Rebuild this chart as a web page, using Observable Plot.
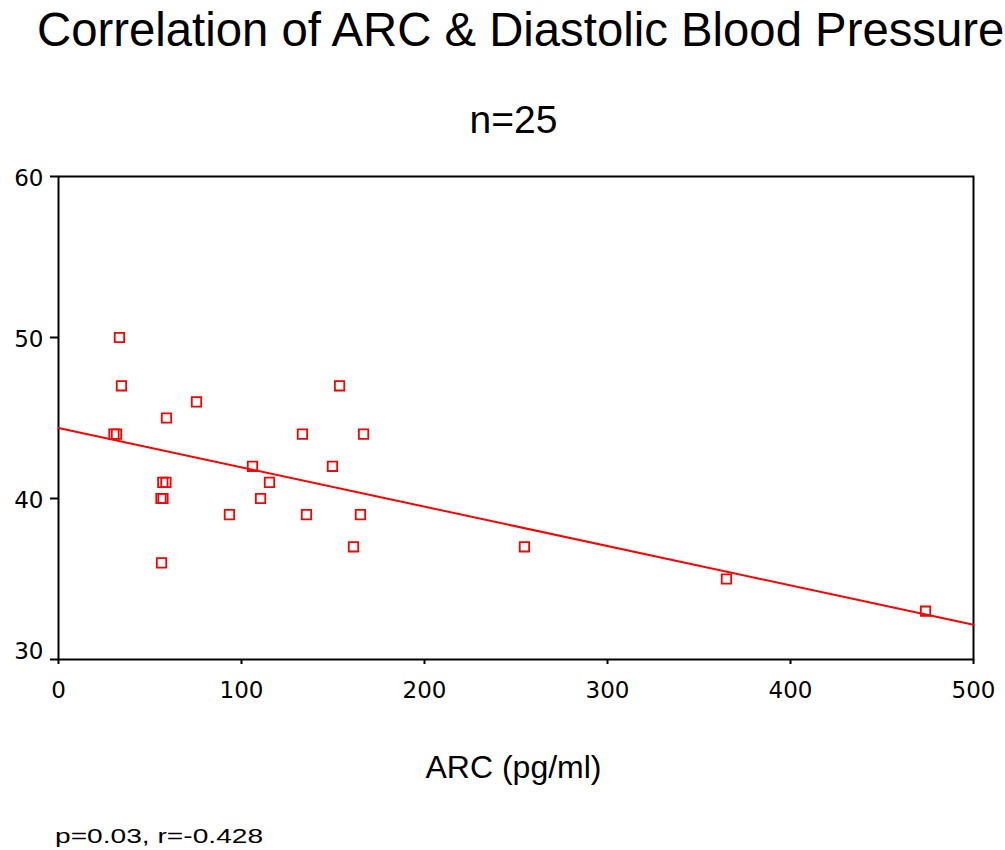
<!DOCTYPE html>
<html>
<head>
<meta charset="utf-8">
<script src="https://cdn.jsdelivr.net/npm/d3@7"></script>
<script src="https://cdn.jsdelivr.net/npm/@observablehq/plot@0.6"></script>
<style>
  html, body { margin: 0; padding: 0; background: white; }
  #wrap { position: relative; width: 1005px; height: 850px; overflow: hidden; background: white;
          font-family: "Liberation Sans", Arial, sans-serif; color: black; }
  .t { position: absolute; line-height: 1; white-space: nowrap; }
  #chart { position: absolute; left: 0; top: 150px; }
  #chart svg text { font-family: "DejaVu Sans", Verdana, sans-serif; }
</style>
</head>
<body>
<div id="wrap">
  <div id="title" class="t" style="left:37px; top:6px; font-size:47.3px;"></div>
  <div id="subtitle" class="t" style="left:0; width:1027px; text-align:center; top:100px; font-size:39px;"></div>
  <div id="chart"></div>
  <div id="xlabel" class="t" style="left:0; width:1027px; text-align:center; top:751px; font-size:32px;"></div>
  <div id="note" class="t" style="left:55px; top:825px; font-size:21px; transform:scaleX(1.34); transform-origin:0 0;"></div>
</div>
<script>
// ---- data ----
const arc = [33.3, 34.4, 30.3, 31.7, 59, 75.4, 57, 58.7, 56, 57.1, 56.3, 93.4, 106, 110.4, 115.3,
             133.3, 135.5, 149.7, 153.6, 161.2, 165, 166.7, 254.6, 365, 473.8];
const dbp = [50, 47, 44, 44, 45, 46, 41, 41, 40, 40, 36, 39, 42, 40, 41,
             44, 39, 42, 47, 37, 39, 44, 37, 35, 33];
const xTicks = [0, 100, 200, 300, 400, 500];
const yTicks = [30, 40, 50, 60];
const titleText = "Correlation of ARC & Diastolic Blood Pressure";
const subtitleText = "n=25";
const xLabelText = "ARC (pg/ml)";
const noteText = "p=0.03, r=-0.428";

document.getElementById("title").textContent = titleText;
document.getElementById("subtitle").textContent = subtitleText;
document.getElementById("xlabel").textContent = xLabelText;
document.getElementById("note").textContent = noteText;

const points = arc.map((x, i) => ({x, y: dbp[i]}));
const xDomain = [xTicks[0], xTicks[xTicks.length - 1]];
const yDomain = [yTicks[0], yTicks[yTicks.length - 1]];

// least-squares fit, drawn across the whole x domain
const mx = d3.mean(arc), my = d3.mean(dbp);
const slope = d3.sum(arc, (x, i) => (x - mx) * (dbp[i] - my)) / d3.sum(arc, x => (x - mx) ** 2);
const intercept = my - slope * mx;
const fit = xDomain.map(x => ({x, y: intercept + slope * x}));

const chart = Plot.plot({
  width: 1005,
  height: 570,
  marginTop: 26,
  marginLeft: 58,
  marginRight: 32,
  marginBottom: 61,
  style: {fontFamily: "'DejaVu Sans', Verdana, sans-serif", background: "white", color: "black", overflow: "visible"},
  x: {domain: xDomain},
  y: {domain: yDomain},
  marks: [
    // tick lines
    Plot.axisY(yTicks, {tickSize: 8, strokeWidth: 2, tickFormat: () => "", label: null}),
    Plot.axisX(xTicks, {tickSize: 5, strokeWidth: 2, tickFormat: () => "", label: null}),
    // tick labels
    Plot.axisY(yTicks.slice(1), {tickSize: 0, tickPadding: 15, dy: 2, fontSize: 23, label: null}),
    Plot.axisY(yTicks.slice(0, 1), {tickSize: 0, tickPadding: 15, dy: -8, fontSize: 23, label: null}),
    Plot.axisX(xTicks, {tickSize: 0, tickPadding: 22, fontSize: 23, label: null}),
    Plot.frame({stroke: "black", strokeWidth: 2}),
    Plot.line(fit, {x: "x", y: "y", stroke: "red", strokeWidth: 2}),
    Plot.dot(points, {x: "x", y: "y", symbol: "square", r: 5.3, stroke: "red", strokeWidth: 1.8, fill: "none"})
  ]
});
document.getElementById("chart").appendChild(chart);
</script>
</body>
</html>
